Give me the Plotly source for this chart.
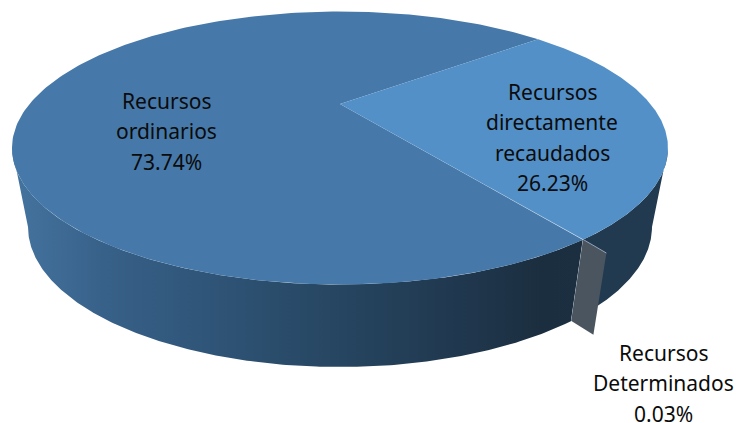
import numpy as np
import plotly.graph_objects as go

# ---- data ----
categories = ["Recursos directamente recaudados", "Recursos Determinados", "Recursos ordinarios"]
values = [26.23, 0.03, 73.74]
label_lines = [["Recursos", "directamente", "recaudados"], ["Recursos", "Determinados"], ["Recursos", "ordinarios"]]
label_centres = [(552, 92), (663, 353), (166, 101)]
top_colors = ["#5390C8", "#4A5560", "#4679A9"]

# ---- geometry of the drawing ----
W, H = 736, 423
CX = 340
TOP = dict(cy=148.0, a=328.0, b=136.5)
BOT = dict(cy=227.0, a=312.0, b=140.0)
P = 0.322            # perspective shift of the pie centre
START = 50.3         # first slice begins here, degrees clockwise from 12 o'clock
EXPLODE = 1.07       # the small slice sits this far out
LINE_GAP = 30.3

def project(theta_deg, r, rim):
    t = np.radians(90 - np.asarray(theta_deg, dtype=float))
    x, y = r * np.cos(t), r * np.sin(t)
    d = 1 + P * y
    xp = x * np.sqrt(1 - P ** 2) / d
    yp = (y + P) / d
    return CX + rim["a"] * xp, rim["cy"] - rim["b"] * yp

def arc(a, b, rim, r=1.0, n=240):
    return project(np.linspace(a, b, n), r, rim)

bounds = START + np.cumsum([0] + values) * 3.6
theta_side = 90 - np.degrees(np.arcsin(-P))      # right silhouette of the cylinder
theta_left = 360 - theta_side                    # left silhouette of the cylinder

fig = go.Figure()

def poly(xs, ys, color=None, gradient=None):
    kw = dict(fillgradient=gradient) if gradient else dict(fillcolor=color)
    fig.add_trace(go.Scatter(x=list(xs), y=list(ys), mode="lines", fill="toself",
                             line=dict(width=0, color="rgba(0,0,0,0)"),
                             hoverinfo="skip", showlegend=False, **kw))

def wall(a, b, color=None, gradient=None):
    xt, yt = arc(a, b, TOP)
    xb, yb = arc(a, b, BOT)
    poly(np.r_[xt, xb[::-1]], np.r_[yt, yb[::-1]], color, gradient)

# side of first slice
wall(theta_side, bounds[1], color="#213A50")
# side of the big slice
wall(bounds[2], theta_left, gradient=dict(
    type="horizontal",
    colorscale=[[0.0, "#44749F"], [0.16, "#386189"], [0.34, "#2F5578"], [0.58, "#264560"],
                [0.78, "#20384F"], [0.93, "#1B2E3F"], [1.0, "#1C2F40"]]))
# exploded tiny slice: its cut face
x1, y1 = project(bounds[1], 1.0, TOP)
x2, y2 = project(bounds[2], EXPLODE, TOP)
x3, y3 = project(bounds[2], EXPLODE, BOT)
x4, y4 = project(bounds[1], 1.0, BOT)
poly([x1, x2, x3, x4], [y1, y2, y3, y4], top_colors[1])

# top faces
ax, ay = project(0, 0, TOP)
xr, yr = arc(bounds[2], bounds[3], TOP)
poly(np.r_[ax, xr], np.r_[ay, yr], top_colors[2])
xr, yr = arc(bounds[0], bounds[1], TOP)
poly(np.r_[ax, xr], np.r_[ay, yr], top_colors[0])

# thin highlight along the cut
mx, my = ax + 0.62 * (x1 - ax), ay + 0.62 * (y1 - ay)
fig.add_trace(go.Scatter(x=[mx, x1], y=[my, y1], mode="lines",
                         line=dict(width=1, color="rgba(170,195,225,0.3)"),
                         hoverinfo="skip", showlegend=False))
fig.add_trace(go.Scatter(x=[x1, x2], y=[y1, y2], mode="lines",
                         line=dict(width=1, color="rgba(170,185,205,0.8)"),
                         hoverinfo="skip", showlegend=False))

# labels
order = [2, 0, 1]
for i in order:
    lines = label_lines[i] + [f"{values[i]:.2f}%"]
    cx, cy = label_centres[i]
    for k, s in enumerate(lines):
        fig.add_annotation(x=cx, y=cy + k * LINE_GAP, text=s, showarrow=False,
                           xref="x", yref="y", xanchor="center", yanchor="middle",
                           font=dict(family="Noto Sans", size=21, color="#0B0B0B"))

fig.update_layout(
    width=W, height=H, margin=dict(l=0, r=0, t=0, b=0),
    paper_bgcolor="white", plot_bgcolor="white", showlegend=False,
    xaxis=dict(range=[0, W], visible=False, fixedrange=True),
    yaxis=dict(range=[H, 0], visible=False, fixedrange=True),
)
fig.write_html("out.html", config={"displayModeBar": False},
               post_script="document.body.style.margin='0';document.body.style.overflow='hidden';")
